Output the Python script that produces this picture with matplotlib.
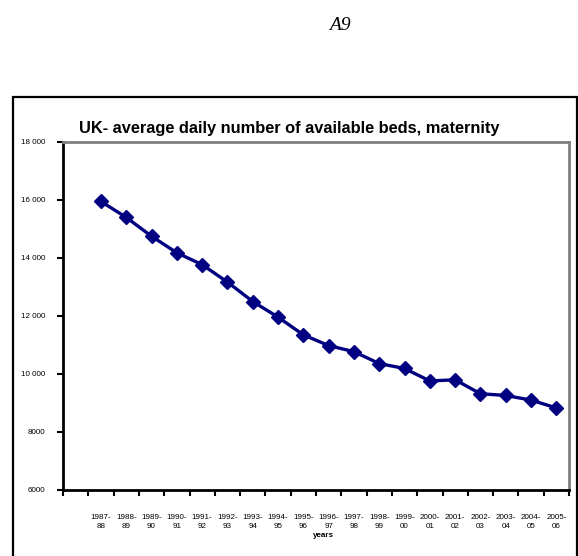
import matplotlib
matplotlib.use('Agg')
from matplotlib import pyplot as plt
from matplotlib.patches import Rectangle
import numpy as np

# UK average daily number of available maternity beds
years = ['1987-\n88', '1988-\n89', '1989-\n90', '1990-\n91', '1991-\n92', '1992-\n93',
         '1993-\n94', '1994-\n95', '1995-\n96', '1996-\n97', '1997-\n98', '1998-\n99',
         '1999-\n00', '2000-\n01', '2001-\n02', '2002-\n03', '2003-\n04', '2004-\n05',
         '2005-\n06']
beds = [15950, 15400, 14750, 14180, 13770, 13170, 12500, 11960, 11350, 10980,
        10770, 10360, 10190, 9760, 9800, 9320, 9260, 9100, 8830]
yticks = [6000, 8000, 10000, 12000, 14000, 16000, 18000]
ytick_labels = ['6000', '8000', '10 000', '12 000', '14 000', '16 000', '18 000']

plt.rcParams['font.family'] = ['Liberation Sans', 'DejaVu Sans']

fig = plt.figure(figsize=(5.78, 5.56), dpi=100)
ax = fig.add_axes([63/578, 1-490/556, (569-63)/578, (490-142)/556])

# first slot on the category axis is left empty, like the original
xpos = np.arange(1, len(years) + 1) + 0.5
ax.plot(xpos, beds, '-D', color='#000080', lw=2.4, ms=7, mec='#000080', mfc='#000080')

ax.set_xlim(0, len(years) + 1)
ax.set_ylim(6000, 18000)
ax.set_yticks(yticks)
ax.set_yticklabels(ytick_labels, fontsize=5.8)
ax.set_xticks(np.arange(0, len(years) + 2))
ax.set_xticklabels([])
ax.set_xticks(xpos, minor=True)
ax.set_xticklabels(years, minor=True, fontsize=5.8, linespacing=1.55)
ax.tick_params(axis='x', which='minor', length=0, pad=17)
ax.tick_params(axis='both', which='major', length=4, width=1.5, color='black', direction='out')
ax.tick_params(axis='y', pad=9)

for side in ['left', 'bottom']:
    ax.spines[side].set_linewidth(2)
    ax.spines[side].set_color('black')
for side in ['top', 'right']:
    ax.spines[side].set_linewidth(2)
    ax.spines[side].set_color('#808080')

fig.text(289/578, 1-133/556, 'UK- average daily number of available beds, maternity',
         ha='center', va='baseline', fontsize=11.8, fontweight='bold')
# sits just under the tick labels (it overlapped them in the original)
fig.text(323/578, 1-537/556, 'years', ha='center', va='baseline', fontsize=5.8, fontweight='bold')
fig.text(340/578, 1-30/556, 'A9', ha='center', va='baseline', fontsize=14,
         family='Liberation Serif', style='italic')

# outer chart frame
fig.patches.append(Rectangle((13/578, -0.01), (577-13)/578, 1-97/556+0.01,
                             transform=fig.transFigure, fill=False, ec='black', lw=1.6))

plt.savefig('out.png', dpi=100)
plt.close()
